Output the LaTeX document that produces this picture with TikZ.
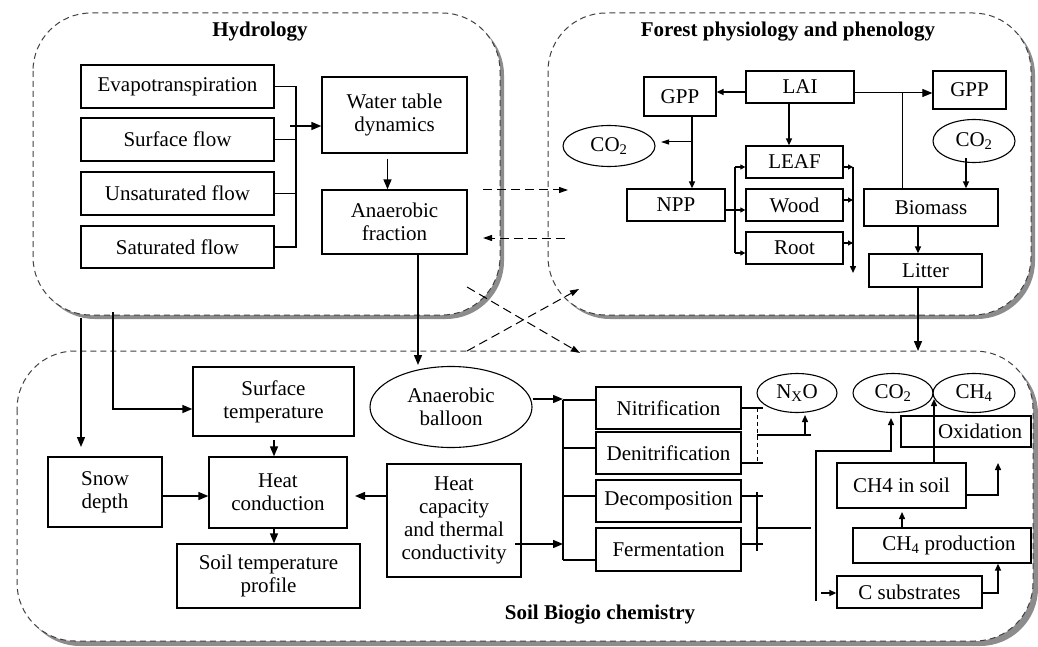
\documentclass[tikz,border=0pt]{standalone}
\usepackage{fontspec}
\setmainfont{Liberation Serif}
\usetikzlibrary{arrows.meta,shapes.geometric}
\begin{document}
\begin{tikzpicture}[x=1pt,y=-1pt,
  box/.style={draw, line width=1.3pt, inner sep=0pt, align=center, font=\fontsize{21}{23}\selectfont},
  sz/.style 2 args={minimum width=#1pt, minimum height=#2pt},
  ell/.style={draw, ellipse, line width=1.1pt, inner sep=0pt, font=\fontsize{21}{23}\selectfont},
  con/.style={line width=1.4pt},
  thinc/.style={line width=1pt},
  arr/.style={con, -{Triangle[length=10pt,width=8pt]}},
  marr/.style={con, -{Triangle[length=7pt,width=6pt]}},
  sarr/.style={con, -{Triangle[length=5pt,width=5pt]}},
  dasharr/.style={line width=1pt, dash pattern=on 9pt off 5pt, -{Triangle[length=9pt,width=6pt]}},
  region/.style={draw=black!75, line width=1pt, dash pattern=on 6pt off 4pt, fill=white, rounded corners=58pt},
  shadow/.style={fill=black!45, rounded corners=58pt},
  title/.style={font=\fontsize{21}{23}\selectfont\bfseries}
]
\useasboundingbox[fill=white] (0,0) rectangle (1038,647);

% regions
\fill[shadow] (37,17) rectangle (504,319);
\draw[region] (33,13) rectangle (500,315);
\fill[shadow] (552,17) rectangle (1035,319);
\draw[region] (548,13) rectangle (1031,315);
\fill[shadow] (22,356) rectangle (1038,646);
\draw[region] (17,351) rectangle (1033,641);

\node[title] (thyd) at (260,32) {Hydrology};
\node[title] (tfor) at (788,32) {Forest physiology and phenology};
\node[title] (tsoil) at (600,615) {Soil Biogio chemistry};

% ---------- Hydrology ----------
\node[box, sz={193}{43}] (evap) at (177.5,86.5) {Evapotranspiration};
\node[box, sz={193}{43}] (surf) at (177.5,139.5) {Surface flow};
\node[box, sz={193}{43}] (unsat) at (177.5,193.5) {Unsaturated flow};
\node[box, sz={193}{42}] (sat) at (177.5,247) {Saturated flow};
\node[box, sz={145}{76}] (water) at (394.5,115) {Water table\\dynamics};
\node[box, sz={145}{64}] (anfrac) at (394.5,222) {Anaerobic\\fraction};

\coordinate (hbt) at (296,86.5);
\coordinate (hbb) at (296,247);
\draw[con] (evap.east) -- (hbt) -- (hbb) -- (sat.east);
\draw[con] (surf.east) -- (surf.east -| hbt);
\draw[con] (unsat.east) -- (unsat.east -| hbt);
\coordinate (win) at (290,126);
\draw[arr] (win) -- (win -| water.west);
\draw[arr] ([xshift=-7pt,yshift=-5pt]water.south) -- ([xshift=-7pt]anfrac.north);

% ---------- Forest ----------
\node[box, sz={72}{39}] (gppL) at (680,96.5) {GPP};
\node[box, sz={108}{32}] (lai) at (800,87) {LAI};
\node[box, sz={73}{38}] (gppR) at (969.5,90) {GPP};
\node[ell, sz={92}{41}] (co2L) at (609,146) {CO\textsubscript{2}};
\node[ell, sz={82}{43}] (co2R) at (974,141) {CO\textsubscript{2}};
\node[box, sz={97}{32}] (leaf) at (794.5,162) {LEAF};
\node[box, sz={97}{32}] (wood) at (794.5,205) {Wood};
\node[box, sz={97}{32}] (root) at (794.5,248) {Root};
\node[box, sz={98}{32}] (npp) at (676,205) {NPP};
\node[box, sz={134}{37}] (biomass) at (931,207.5) {Biomass};
\node[box, sz={113}{33}] (litter) at (925.5,270.5) {Litter};

\draw[marr] ([yshift=-5pt]lai.west) -- ([yshift=-5pt]lai.west -| gppL.east);
\draw[marr] ([xshift=-11pt]lai.south) -- ([xshift=-11pt]lai.south |- leaf.north);
\coordinate (lj) at (902,93);
\draw[thinc, -{Triangle[length=10pt,width=8pt]}] (lai.east |- lj) -- (lj -| gppR.west);
\draw[thinc] (biomass.north -| lj) -- (lj);
\draw[marr] ([xshift=12pt]gppL.south) -- ([xshift=12pt]gppL.south |- npp.north);
\coordinate (cj) at (692,142);
\coordinate (cje) at (661,142);
\draw[thinc, -{Triangle[length=8pt,width=5pt]}] (cj) -- (cje);

\coordinate (nbt) at (735,167);
\coordinate (nbm) at (735,210);
\coordinate (nbb) at (735,253);
\draw[con] (npp.east |- nbm) -- (nbm);
\draw[con] (nbt) -- (nbb);
\draw[sarr] (nbt) -- (nbt -| leaf.west);
\draw[sarr] (nbm) -- (nbm -| wood.west);
\draw[sarr] (nbb) -- (nbb -| root.west);

\coordinate (rbt) at (853,167);
\coordinate (rbm) at (853,200);
\coordinate (rbl) at (853,243);
\coordinate (rbb) at (853,273);
\draw[sarr] (rbt -| leaf.east) -- (rbt);
\draw[sarr] (rbm -| wood.east) -- (rbm);
\draw[sarr] (rbl -| root.east) -- (rbl);
\draw[marr] (rbt) -- (rbb);

\coordinate (co2Rs) at (966,158);
\draw[marr] (co2Rs) -- (co2Rs |- biomass.north);
\coordinate (lit) at (918,226);
\draw[marr] (lit) -- (lit |- litter.north);

% ---------- Soil ----------
\node[box, sz={161}{69}] (surft) at (273.5,401.5) {Surface\\temperature};
\node[box, sz={114}{70}] (snow) at (105,492) {Snow\\depth};
\node[box, sz={138}{71}] (heatc) at (278,492.5) {Heat\\conduction};
\node[box, sz={183}{64}] (stp) at (268.5,576) {Soil temperature\\profile};
\node[box, sz={134}{113}] (heatcap) at (454,520.5) {Heat\\capacity\\and thermal\\conductivity};
\node[ell, sz={162}{81}, align=center] (balloon) at (451,407) {Anaerobic\\balloon};
\node[box, sz={145}{42}] (nitr) at (668.5,408) {Nitrification};
\node[box, sz={145}{42}] (denit) at (668.5,453) {Denitrification};
\node[box, sz={145}{42}] (decomp) at (668.5,501) {Decomposition};
\node[box, sz={145}{43}] (ferm) at (668.5,549.5) {Fermentation};
\node[ell, sz={80}{39}] (nxo) at (797,393) {N\textsubscript{X}O};
\node[ell, sz={80}{39}] (co2S) at (893,393) {CO\textsubscript{2}};
\node[ell, sz={82}{39}] (ch4) at (974,393) {CH\textsubscript{4}};
\node[box, sz={130}{31}, label={[font=\fontsize{21}{23}\selectfont, xshift=14pt]center:Oxidation}] (oxid) at (966,431.5) {};
\node[box, sz={129}{45}] (ch4soil) at (901.5,485.5) {CH4 in soil};
\node[box, sz={178}{35}] (ch4prod) at (942,545.5) {\hspace*{14pt}CH\textsubscript{4} production};
\node[box, sz={145}{32}] (csub) at (909.5,592) {C substrates};

% links from upper regions
\coordinate (af1) at (418,254);
\coordinate (af2) at (418,365);
\draw[arr] (af1) -- (af2);
\coordinate (lt1) at (918,287);
\coordinate (lt2) at (918,351);
\draw[arr] (lt1) -- (lt2);

\coordinate (sd1) at (81,318);
\coordinate (sd2) at (81,447);
\draw[arr] (sd1) -- (sd2);
\coordinate (st1) at (113,312);
\coordinate (st2) at (113,409);
\draw[arr] (st1) -- (st2) -- (st2 -| surft.west);

\coordinate (hc1) at (274,440);
\draw[arr] (hc1) -- (hc1 |- heatc.north);
\coordinate (hc2) at (274,528);
\draw[arr] (hc2) -- (hc2 |- stp.north);
\coordinate (hr) at (0,496);
\draw[arr] (snow.east |- hr) -- (heatc.west |- hr);
\coordinate (hce) at (355,496);
\draw[arr] (heatcap.west |- hr) -- (hce);

% bus to processes
\coordinate (pb1) at (563,400);
\coordinate (pb2) at (563,448);
\coordinate (pb3) at (563,496);
\coordinate (pb4) at (563,560);
\coordinate (hcap) at (515,544);
\draw[arr] (balloon.east |- 0,399) -- (563,399);
\draw[arr] (hcap) -- (hcap -| pb1);
\draw[con] (pb1) -- (pb4);
\draw[con] (pb1) -- (pb1 -| nitr.west);
\draw[con] (pb2) -- (pb2 -| denit.west);
\draw[con] (pb3) -- (pb3 -| decomp.west);
\draw[con] (pb4) -- (pb4 -| ferm.west);

% N2O
\coordinate (n1) at (763,408);
\coordinate (n2) at (763,463);
\draw[con] (nitr.east |- n1) -- (n1);
\draw[con] (denit.east |- n2) -- (n2);
\draw[thinc, dash pattern=on 4pt off 3pt] (757,408) -- (757,463);
\coordinate (nj) at (757,435);
\coordinate (nje) at (811,435);
\draw[con] (nj) -- (nje);
\coordinate (na) at (805,435);
\draw[marr] (na) -- (805,415);

% decomposition / fermentation
\coordinate (d1) at (763,496);
\coordinate (d2) at (763,544);
\draw[con] (decomp.east |- d1) -- (d1);
\draw[con] (ferm.east |- d2) -- (d2);
\draw[con] (757,492) -- (757,551);
\coordinate (dj) at (757,528);
\coordinate (dje) at (811,528);
\draw[con] (dj) -- (dje);

% CO2 / CH4 network
\coordinate (cv1) at (816,601);
\coordinate (cv2) at (816,451);
\coordinate (cv3) at (891,451);
\draw[marr] (cv1) -- (cv2) -- (cv3) -- (891,418);
\coordinate (cs) at (821,593);
\draw[marr] (cs) -- (cs -| csub.west);
\coordinate (cp) at (998,593);
\draw[marr] (csub.east |- cp) -- (cp) -- (cp |- ch4prod.south);
\coordinate (pr) at (902,528);
\draw[marr] (pr) -- (902,512);
\coordinate (so) at (934,463);
\draw[marr] (so) -- (934,399);
\coordinate (ox) at (998,495);
\draw[marr] (ch4soil.east |- ox) -- (ox) -- (998,463);

% dashed exchanges
\coordinate (x1) at (483,190);
\coordinate (x2) at (568,190);
\draw[dasharr] (x1) -- (x2);
\coordinate (x3) at (565,238);
\coordinate (x4) at (483,238);
\draw[dasharr] (x3) -- (x4);
\coordinate (x5) at (467,287);
\coordinate (x6) at (580,353);
\draw[dasharr] (x5) -- (x6);
\coordinate (x7) at (467,351);
\coordinate (x8) at (579,289);
\draw[dasharr] (x7) -- (x8);
\end{tikzpicture}
\end{document}
